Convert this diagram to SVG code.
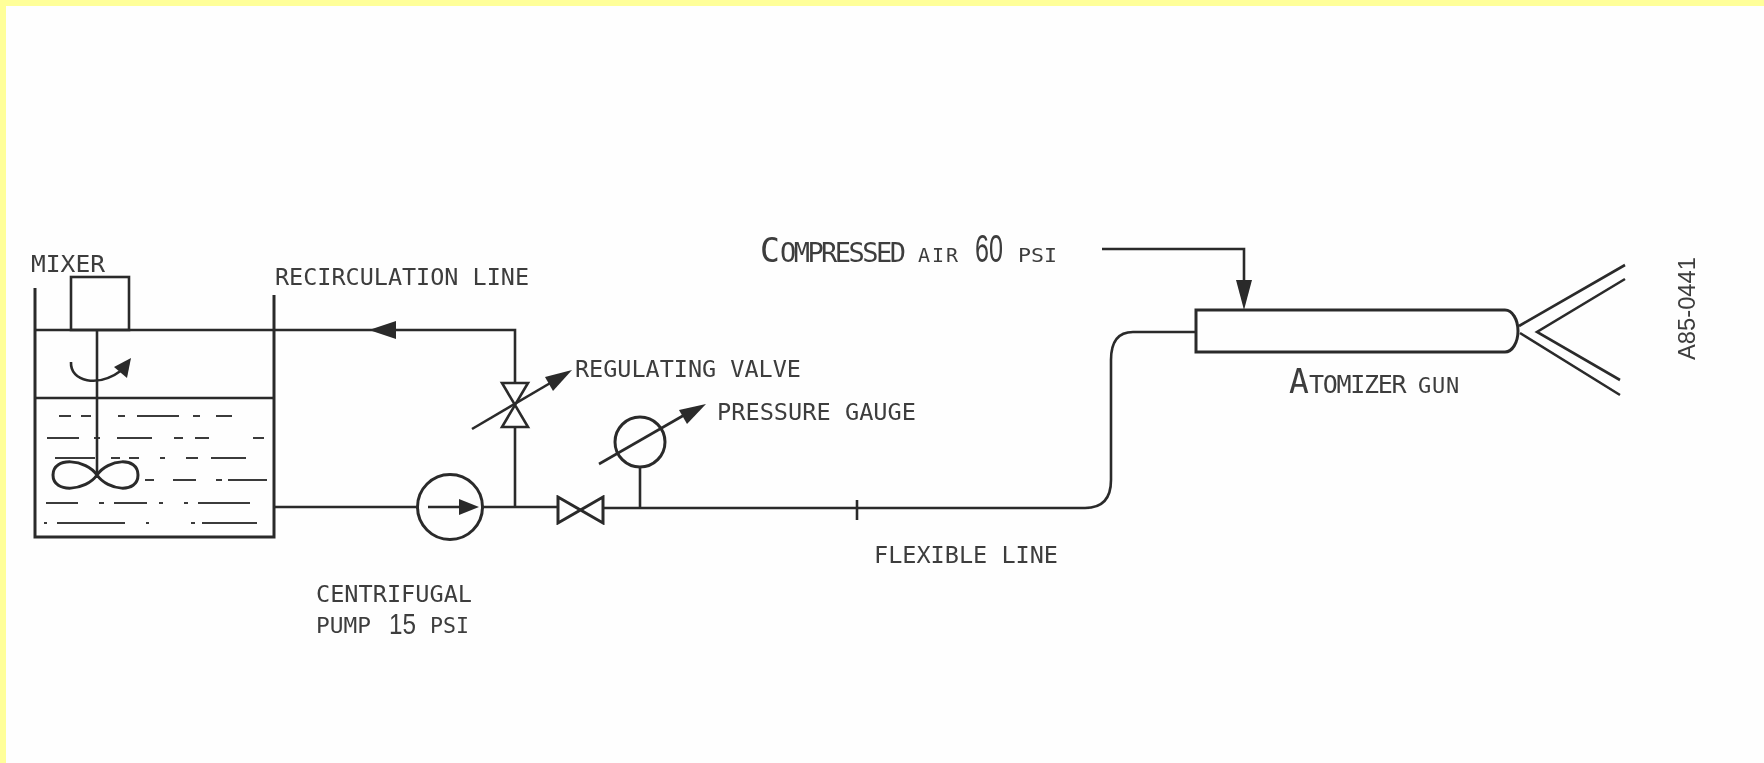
<svg xmlns="http://www.w3.org/2000/svg" width="1764" height="763" viewBox="0 0 1764 763">
<style>
.l{fill:none;stroke:#2b2b2b;stroke-width:2.6}
.t{stroke-width:3}
.d{fill:none;stroke:#3a3a3a;stroke-width:1.8}
.h{fill:#2b2b2b;stroke:none}
.g{filter:url(#soft)}
text{font-family:"DejaVu Sans Mono","Liberation Mono",monospace;fill:#3d3d3d}
.a{font-size:23px}
.s{font-size:20px}
.p{font-size:22px}
.n{font-family:"Liberation Sans",Arial,sans-serif}
</style>
<defs><filter id="soft" x="-5%" y="-5%" width="110%" height="110%"><feGaussianBlur stdDeviation="0.5"/></filter></defs>
<rect width="1764" height="763" fill="#fefefe"/>
<rect width="1764" height="6" fill="#ffff99"/>
<rect width="6" height="763" fill="#ffff99"/>

<g id="tank" class="g">
<path class="l t" d="M35 288V537H274V295"/>
<path class="l" d="M35 330H274M35 398H274"/>
<path class="d" d="M59 416h12M81 416h10M118 416h7M137 416h42M193 416h7M216 416h16M47 438h32M94 438h6M117 438h35M174 438h9M195 438h14M253 438h11M55 458h40M111 458h9M129 458h10M160 458h5M186 458h12M211 458h35M145 480h9M173 480h23M216 480h6M228 480h39M46 503h32M99 503h5M114 503h33M159 503h4M184 503h4M198 503h52M44 523h3M57 523h68M146 523h3M191 523h4M202 523h55"/>
</g>

<g id="mixer" class="g">
<rect class="l" x="71" y="277" width="58" height="53"/>
<path class="l" d="M97 330V475"/>
<path class="l t" d="M97 475C86 459 53 456 53 475C53 494 86 491 97 475C108 459 138 456 138 475C138 494 108 491 97 475Z"/>
<path class="l" d="M71 362C70 382 98 388 122 370"/>
<path class="h" d="M131 358L127 378L114 367Z"/>
</g>

<g id="connectors" class="g">
<path class="l" d="M274 330H515V383M515 427V507M274 507H418M482 507H558M603 508H1085Q1111 508 1111 480V360Q1111 332 1133 332H1195"/>
<path class="h" d="M369 330L396 321V339Z"/>
<path class="l" d="M640 467V508"/>
<path class="l" d="M857 500V520"/>
<path class="l" d="M1102 249H1244V290"/>
<path class="h" d="M1244 310L1236 280H1252Z"/>
</g>

<g id="pump" class="g">
<circle class="l t" cx="450" cy="507" r="32.5"/>
<path class="l" d="M428 507H462"/>
<path class="h" d="M479 507L459 499V515Z"/>
</g>

<g id="regulating-valve" class="g">
<path class="l" d="M502 383H528L502 427H528Z"/>
<path class="l" d="M472 429L552 382"/>
<path class="h" d="M572 370L553 391L545 377Z"/>
</g>

<g id="shutoff-valve" class="g">
<path class="l t" d="M558 497V523L603 497V523Z"/>
</g>

<g id="pressure-gauge" class="g">
<circle class="l t" cx="640" cy="442" r="25"/>
<path class="l" d="M599 464L686 414"/>
<path class="h" d="M706 404L687 424L679 410Z"/>
</g>

<g id="atomizer-gun" class="g">
<path class="l t" d="M1196 310H1505A13 21 0 0 1 1505 352H1196Z"/>
<path class="l" d="M1519 326L1625 265M1625 279L1537 332L1620 380M1520 333L1620 395"/>
</g>

<g id="labels" class="g">
<text class="a" x="31" y="272" textLength="74" lengthAdjust="spacingAndGlyphs">MIXER</text>
<text class="a" x="275" y="285" textLength="254" lengthAdjust="spacingAndGlyphs">RECIRCULATION LINE</text>
<text class="a" x="316" y="602" textLength="156" lengthAdjust="spacingAndGlyphs">CENTRIFUGAL</text>
<text class="p" x="316" y="633" textLength="55" lengthAdjust="spacingAndGlyphs">PUMP</text>
<text class="n" x="389" y="634" font-size="30" textLength="27" lengthAdjust="spacingAndGlyphs">15</text>
<text class="p" x="430" y="633" textLength="39" lengthAdjust="spacingAndGlyphs">PSI</text>
<text class="a" x="575" y="377" textLength="226" lengthAdjust="spacingAndGlyphs">REGULATING VALVE</text>
<text class="a" x="717" y="420" textLength="199" lengthAdjust="spacingAndGlyphs">PRESSURE GAUGE</text>
<text class="a" x="874" y="563" textLength="184" lengthAdjust="spacingAndGlyphs">FLEXIBLE LINE</text>
<text x="760" y="262" font-size="27"><tspan font-size="33">C</tspan><tspan x="780" letter-spacing="-2.55">OMPRESSED</tspan><tspan x="918" font-size="20" letter-spacing="2">AIR</tspan></text>
<text class="n" x="975" y="262" font-size="39" textLength="28" lengthAdjust="spacingAndGlyphs">60</text>
<text class="s" x="1018" y="262" textLength="39" lengthAdjust="spacingAndGlyphs">PSI</text>
<text x="1289" y="393" font-size="25"><tspan font-size="33">A</tspan><tspan x="1309" letter-spacing="-1.3">TOMIZER</tspan><tspan x="1418" font-size="22" letter-spacing="0.8">GUN</tspan></text>
<text class="n" x="0" y="0" font-size="24" transform="translate(1695 360) rotate(-90)" textLength="103" lengthAdjust="spacingAndGlyphs">A85-0441</text>
</g>
</svg>
